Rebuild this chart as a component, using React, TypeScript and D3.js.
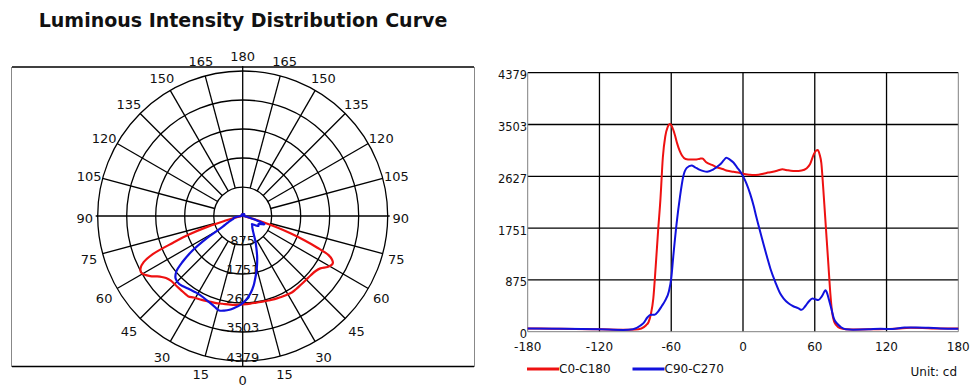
import React from "react";
import * as d3 from "d3";

// C0-C180 plane (red)
const redAngles = [
  -180, -160, -140, -120, -100, -90, -85, -81, -79, -77, -75, -73, -71, -69, -67, -65, -63, -61,
  -59, -57, -55, -53, -51, -48, -44, -40, -36, -34, -31, -26, -22, -17, -13, -8, -4, 0, 5, 9, 13,
  17, 21, 25, 29, 33, 36, 40, 44, 49, 53, 56, 59, 61, 62.5, 64, 65.5, 67, 68.5, 70, 71.5, 73, 74.5,
  76, 78, 81, 86, 95, 110, 120, 130, 140, 150, 160, 170, 180,
];
const redValues = [
  55, 50, 45, 42, 35, 38, 55, 110, 160, 300, 560, 1100, 1700, 2250, 2950, 3300, 3460, 3510,
  3450, 3330, 3180, 3060, 2980, 2920, 2910, 2910, 2925, 2930, 2870, 2820, 2780, 2750, 2720, 2705,
  2690, 2670, 2655, 2648, 2655, 2670, 2690, 2705, 2725, 2745, 2735, 2720, 2715, 2725, 2760, 2830,
  2990, 3060, 3070, 3000, 2850, 2450, 2000, 1550, 1100, 650, 330, 180, 110, 60, 42, 38, 42, 45,
  55, 65, 62, 55, 52, 55,
];

// C90-C270 plane (blue)
const blueAngles = [
  -180, -150, -120, -100, -92, -86, -83, -80, -77, -74, -71, -68, -65, -62, -60, -58.3, -55.5,
  -52.7, -50, -47, -43, -40, -37, -33, -30, -26, -23, -19, -16, -14, -11, -8, -5, -2, 0, 3, 6, 9,
  11, 14, 17, 20, 23, 27, 31, 34, 38, 42, 46, 49, 52, 55, 58, 61, 63, 66, 69, 70.5, 72, 74, 76, 79,
  82, 86, 92, 105, 115, 125, 135, 145, 155, 165, 180,
];
const blueValues = [
  55, 50, 40, 30, 40, 100, 150, 240, 285, 285, 340, 430, 530, 680, 900, 1270, 1830, 2280, 2620,
  2770, 2810, 2780, 2745, 2715, 2705, 2730, 2770, 2830, 2900, 2940, 2910, 2860, 2780, 2700, 2630,
  2500, 2330, 2120, 1950, 1720, 1490, 1270, 1060, 840, 650, 560, 480, 430, 400, 370, 430, 510, 560,
  545, 535, 600, 700, 640, 530, 380, 220, 130, 75, 40, 35, 40, 50, 45, 70, 72, 65, 55, 50,
];

const series = [
  { name: "C0-C180", color: "#ee1111", angles: redAngles, values: redValues },
  { name: "C90-C270", color: "#1111dd", angles: blueAngles, values: blueValues },
];

const intensityTicks = [0, 875, 1751, 2627, 3503, 4379];
const maxIntensity = 4379;
const angleTicks = [-180, -120, -60, 0, 60, 120, 180];
const polarLabels = [0, 15, 30, 45, 60, 75, 90, 105, 120, 135, 150, 165, 180];

const FONT = "'DejaVu Sans', Verdana, sans-serif";

const Polar = () => {
  const cx = 242.7;
  const cy = 216;
  const r = d3.scaleLinear().domain([0, maxIntensity]).range([0, 145]);
  const rad = (deg: number) => (deg * Math.PI) / 180;
  // gamma 0 points down, negative gamma to the left
  const px = (deg: number, rr: number) => cx + rr * Math.sin(rad(deg));
  const py = (deg: number, rr: number) => cy + rr * Math.cos(rad(deg));

  const spokes = d3.range(0, 360, 15);
  const line = d3
    .lineRadial<[number, number]>()
    .angle((d) => Math.PI - rad(d[0]))
    .radius((d) => r(d[1]))
    .curve(d3.curveCatmullRom);

  return (
    <g>
      <line x1={12} x2={474} y1={67} y2={67} stroke="#000" strokeWidth={1.5} />
      <line x1={12} x2={474} y1={366.5} y2={366.5} stroke="#000" strokeWidth={1.5} />
      <line x1={11.5} x2={11.5} y1={67} y2={367} stroke="#888" />
      <line x1={474.5} x2={474.5} y1={67} y2={367} stroke="#888" />

      {intensityTicks.slice(1).map((t) => (
        <circle key={t} cx={cx} cy={cy} r={r(t)} fill="none" stroke="#000" strokeWidth={1.3} />
      ))}
      {spokes.map((deg) => {
        const full = deg % 90 === 0;
        const r0 = full ? 0 : r(intensityTicks[1]);
        const r1 = full ? (deg % 180 === 0 ? 150 : 147) : r(maxIntensity);
        return (
          <line
            key={deg}
            x1={px(deg, r0)}
            y1={py(deg, r0)}
            x2={px(deg, r1)}
            y2={py(deg, r1)}
            stroke="#000"
            strokeWidth={1.3}
          />
        );
      })}

      {intensityTicks.slice(1).map((t) => (
        <text
          key={t}
          x={cx}
          y={cy + r(t) + 0.5}
          textAnchor="middle"
          fontSize={13}
          fontFamily={FONT}
          fill="#111"
        >
          {t}
        </text>
      ))}

      {polarLabels.flatMap((a) => {
        const sides = a === 0 || a === 180 ? [a] : [-a, a];
        const lr = 158 + 4 * Math.abs(Math.cos(rad(a)));
        return sides.map((deg) => (
          <text
            key={deg}
            x={px(deg, lr)}
            y={py(deg, lr) + 2}
            textAnchor="middle"
            dominantBaseline="central"
            fontSize={13}
            fontFamily={FONT}
            fill="#111"
          >
            {a}
          </text>
        ));
      })}

      <g transform={`translate(${cx},${cy})`}>
        {series.map((s) => (
          <path
            key={s.name}
            d={line(s.angles.map((a, i) => [a, s.values[i]])) || ""}
            fill="none"
            stroke={s.color}
            strokeWidth={2.2}
            strokeLinejoin="round"
          />
        ))}
      </g>
    </g>
  );
};

const Linear = () => {
  const left = 527.7;
  const right = 958.3;
  const top = 72.7;
  const bottom = 331.7;
  const x = d3.scaleLinear().domain([-180, 180]).range([left, right]);
  const y = d3.scaleLinear().domain([0, maxIntensity]).range([bottom, top]);
  const line = d3
    .line<[number, number]>()
    .x((d) => x(d[0]))
    .y((d) => y(d[1]))
    .curve(d3.curveMonotoneX);

  return (
    <g>
      {intensityTicks.slice(1).map((t) => (
        <line key={t} x1={left} x2={right} y1={y(t)} y2={y(t)} stroke="#000" strokeWidth={1.3} />
      ))}
      {angleTicks.slice(1, -1).map((t) => (
        <line key={t} x1={x(t)} x2={x(t)} y1={top} y2={bottom} stroke="#000" strokeWidth={1.3} />
      ))}
      <line x1={left} x2={left} y1={top} y2={bottom} stroke="#808080" />
      <line x1={right} x2={right} y1={top} y2={bottom} stroke="#808080" />
      <line x1={left} x2={right} y1={bottom} y2={bottom} stroke="#808080" />

      {intensityTicks.map((t) => (
        <text
          key={t}
          x={left - 0.5}
          y={y(t) + 2.5}
          textAnchor="end"
          dominantBaseline="central"
          fontSize={11.5}
          fontFamily={FONT}
          fill="#111"
        >
          {t}
        </text>
      ))}
      {angleTicks.map((t) => (
        <text
          key={t}
          x={x(t)}
          y={347}
          textAnchor="middle"
          dominantBaseline="central"
          fontSize={12}
          fontFamily={FONT}
          fill="#111"
        >
          {t}
        </text>
      ))}

      {series.map((s) => (
        <path
          key={s.name}
          d={line(s.angles.map((a, i) => [a, s.values[i]])) || ""}
          fill="none"
          stroke={s.color}
          strokeWidth={2}
          strokeLinejoin="round"
        />
      ))}

      {series.map((s, i) => {
        const lx = 527 + i * 105.5;
        return (
          <g key={s.name}>
            <line x1={lx} x2={lx + 32} y1={369} y2={369} stroke={s.color} strokeWidth={3} />
            <text
              x={lx + 32}
              y={369}
              dominantBaseline="central"
              fontSize={12}
              fontFamily={FONT}
              fill="#111"
            >
              {s.name}
            </text>
          </g>
        );
      })}
      <text
        x={957}
        y={372}
        textAnchor="end"
        dominantBaseline="central"
        fontSize={12}
        fontFamily={FONT}
        fill="#111"
      >
        Unit: cd
      </text>
    </g>
  );
};

export default function App() {
  return (
    <svg
      width={980}
      height={392}
      style={{ position: "absolute", left: 0, top: 0, background: "#fff" }}
    >
      <rect width={980} height={392} fill="#fff" />
      <text
        x={243}
        y={27}
        textAnchor="middle"
        fontSize={19}
        fontWeight="bold"
        fontFamily={FONT}
        fill="#111"
      >
        Luminous Intensity Distribution Curve
      </text>
      <Polar />
      <Linear />
    </svg>
  );
}
